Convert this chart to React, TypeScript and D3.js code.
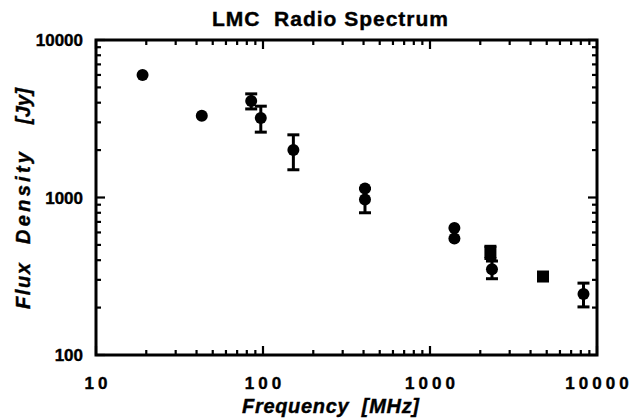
import { useEffect, useRef } from 'react'
import * as d3 from 'd3'

// frequency in MHz, flux density in Jy, symmetric error (0 = none)
const FREQ = [19, 43, 85, 97, 152, 408, 408, 1400, 1400, 2300, 2350, 4750, 8300]
const FLUX = [6000, 3300, 4100, 3200, 2000, 1140, 970, 640, 550, 450, 350, 315, 244]
const ERR = [0, 0, 450, 600, 500, 0, 170, 0, 0, 40, 45, 0, 42]
const SHAPE = ['c', 'c', 'c', 'c', 'c', 'c', 'c', 'c', 'c', 's', 'c', 's', 'c']

const X_TICKS = [10, 100, 1000, 10000]
const Y_TICKS = [100, 1000, 10000]

const TITLE = 'LMC  Radio Spectrum'
const X_TITLE = 'Frequency  [MHz]'
const Y_TITLE = ['Flux', 'Density', '[Jy]']

const FONT = 'Liberation Sans, Arial, Helvetica, sans-serif'

export default function App() {
  const svgRef = useRef<SVGSVGElement>(null)

  useEffect(() => {
    if (!svgRef.current) return
    const svg = d3.select(svgRef.current)
    svg.selectAll('*').remove()

    const W = 632
    const H = 420
    const m = { top: 40, right: 35, bottom: 65, left: 96 }
    svg.attr('width', W).attr('height', H)

    const x = d3.scaleLog().domain([10, 10000]).range([m.left, W - m.right])
    const y = d3.scaleLog().domain([100, 10000]).range([H - m.bottom, m.top])
    const [x0, x1] = x.range()
    const [y0, y1] = y.range()

    svg.append('rect').attr('width', W).attr('height', H).attr('fill', '#fff')

    // minor + major ticks on all four sides, pointing inward
    const minorX = d3.range(1, 4).flatMap(e => d3.range(2, 10).map(k => k * Math.pow(10, e)))
    const minorY = d3.range(2, 4).flatMap(e => d3.range(2, 10).map(k => k * Math.pow(10, e)))
    const tickLen = (major: boolean) => (major ? 9 : 5)

    const ticks = svg.append('g').attr('stroke', '#000').attr('stroke-width', 2.2)
    ;[...minorX.map(v => [v, 0]), ...X_TICKS.map(v => [v, 1])].forEach(([v, maj]) => {
      const px = x(v)
      const len = tickLen(!!maj)
      ticks.append('line').attr('x1', px).attr('x2', px).attr('y1', y0).attr('y2', y0 - len)
      ticks.append('line').attr('x1', px).attr('x2', px).attr('y1', y1).attr('y2', y1 + len)
    })
    ;[...minorY.map(v => [v, 0]), ...Y_TICKS.map(v => [v, 1])].forEach(([v, maj]) => {
      const py = y(v)
      const len = tickLen(!!maj)
      ticks.append('line').attr('y1', py).attr('y2', py).attr('x1', x0).attr('x2', x0 + len)
      ticks.append('line').attr('y1', py).attr('y2', py).attr('x1', x1).attr('x2', x1 - len)
    })

    svg.append('rect')
      .attr('x', x0).attr('y', y1)
      .attr('width', x1 - x0).attr('height', y0 - y1)
      .attr('fill', 'none').attr('stroke', '#000').attr('stroke-width', 3)

    const bold = (sel: any, size: number) =>
      sel.attr('font-family', FONT).attr('font-weight', 'bold').attr('font-size', size)
        .attr('fill', '#000').attr('stroke', '#000').attr('stroke-width', 0.4)

    // tick labels
    bold(svg.append('g').selectAll('text').data(Y_TICKS).join('text')
      .attr('x', 83).attr('y', d => y(d) + 6)
      .attr('text-anchor', 'end'), 17)
      .text(d => String(d))

    bold(svg.append('g').selectAll('text').data(X_TICKS).join('text')
      .attr('x', d => x(d) + 2).attr('y', 389)
      .attr('text-anchor', 'middle')
      .attr('letter-spacing', 4), 17)
      .text(d => String(d))

    // data
    const data = FREQ.map((f, i) => ({ f, v: FLUX[i], e: ERR[i], s: SHAPE[i] }))
    const marks = svg.append('g').attr('fill', '#000').attr('stroke', '#000')

    data.filter(d => d.e > 0).forEach(d => {
      const px = x(d.f)
      const top = y(d.v + d.e)
      const bot = y(d.v - d.e)
      marks.append('line').attr('x1', px).attr('x2', px).attr('y1', top).attr('y2', bot).attr('stroke-width', 3)
      ;[top, bot].forEach(cy => {
        marks.append('line').attr('x1', px - 6).attr('x2', px + 6).attr('y1', cy).attr('y2', cy).attr('stroke-width', 3)
      })
    })

    data.forEach(d => {
      if (d.s === 's') {
        marks.append('rect')
          .attr('x', x(d.f) - 6).attr('y', y(d.v) - 6)
          .attr('width', 12).attr('height', 12).attr('stroke', 'none')
      } else {
        marks.append('circle').attr('cx', x(d.f)).attr('cy', y(d.v)).attr('r', 6).attr('stroke', 'none')
      }
    })

    // titles
    bold(svg.append('text')
      .attr('x', 212).attr('y', 26)
      .attr('textLength', 236).attr('lengthAdjust', 'spacing'), 21)
      .style('white-space', 'pre')
      .text(TITLE)

    bold(svg.append('text')
      .attr('x', 242).attr('y', 413)
      .attr('textLength', 177).attr('lengthAdjust', 'spacing')
      .attr('font-style', 'italic'), 20)
      .style('white-space', 'pre')
      .text(X_TITLE)

    const yTitle = [
      { t: Y_TITLE[0], c: 286, w: 46 },
      { t: Y_TITLE[1], c: 198, w: 92 },
      { t: Y_TITLE[2], c: 106, w: 36 }
    ]
    yTitle.forEach(d => {
      bold(svg.append('text')
        .attr('transform', `translate(30,${d.c + d.w / 2}) rotate(-90)`)
        .attr('textLength', d.w).attr('lengthAdjust', 'spacing')
        .attr('font-style', 'italic'), 20)
        .text(d.t)
    })
  }, [])

  return (
    <div style={{ position: 'absolute', left: 0, top: 0 }}>
      <svg ref={svgRef} style={{ display: 'block' }} />
    </div>
  )
}
